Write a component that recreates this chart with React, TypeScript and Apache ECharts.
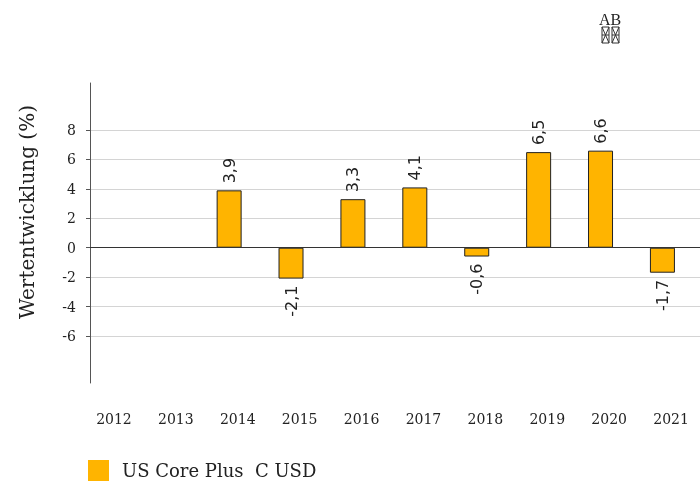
import React, { useEffect, useRef } from "react";
import * as echarts from "echarts";

const years = ["2012", "2013", "2014", "2015", "2016", "2017", "2018", "2019", "2020", "2021"];
const values: (number | null)[] = [null, null, 3.9, -2.1, 3.3, 4.1, -0.6, 6.5, 6.6, -1.7];
const yTicks = [-6, -4, -2, 0, 2, 4, 6, 8];
const seriesName = "US Core Plus  C USD";
const axisTitle = "Wertentwicklung (%)";

const BAR = "#FFB400";
const SERIF = "DejaVu Serif";
const SANS = "DejaVu Sans";

export default function App() {
  const ref = useRef<HTMLDivElement>(null);
  useEffect(() => {
    if (!ref.current) return;
    const chart = echarts.init(ref.current, null, { renderer: "svg" });
    const fmt = (v: number) => String(v).replace(".", ",");
    const boxGlyph = (x: number) => ({
      type: "group",
      x,
      y: 27,
      children: [
        { type: "rect", shape: { x: 0, y: 0, width: 7, height: 16 }, style: { fill: "none", stroke: "#333", lineWidth: 1 } },
        { type: "line", shape: { x1: 0, y1: 0, x2: 7, y2: 16 }, style: { stroke: "#333", lineWidth: 1 } },
        { type: "line", shape: { x1: 7, y1: 0, x2: 0, y2: 16 }, style: { stroke: "#333", lineWidth: 1 } },
        { type: "line", shape: { x1: 0, y1: 8, x2: 7, y2: 8 }, style: { stroke: "#333", lineWidth: 1 } },
      ],
    });
    chart.setOption({
      animation: false,
      grid: { left: 90, top: 83, width: 619, height: 300, containLabel: false, outerBoundsMode: "none" },
      legend: {
        left: 88,
        top: 460,
        padding: 0,
        itemWidth: 21,
        itemHeight: 21,
        icon: "rect",
        itemStyle: { borderWidth: 0 },
        textStyle: { fontFamily: SERIF, fontSize: 18, lineHeight: 20, color: "#222", padding: [0, 0, 0, 8] },
        data: [seriesName],
      },
      xAxis: {
        type: "category",
        data: years,
        axisLine: { show: false },
        axisTick: { show: false },
        axisLabel: { margin: 29, fontFamily: SERIF, fontSize: 14, color: "#222", padding: [0, 14, 0, 0] },
        splitLine: { show: false },
      },
      yAxis: {
        type: "value",
        min: -9.2,
        max: 11.2,
        axisLine: { show: true, lineStyle: { color: "#555", width: 1 } },
        axisTick: { show: true, length: 4, customValues: yTicks, lineStyle: { color: "#555" } },
        axisLabel: { customValues: yTicks, margin: 14, fontFamily: SERIF, fontSize: 14, color: "#222" },
        splitLine: { show: true, lineStyle: { color: "#d4d4d4", width: 1 } },
      },
      graphic: [
        {
          type: "text",
          x: 27,
          y: 212,
          rotation: Math.PI / 2,
          style: { text: axisTitle, fontFamily: SERIF, fontSize: 20, fill: "#222", align: "center", verticalAlign: "middle" },
        },
        {
          type: "text",
          x: 610,
          y: 19,
          style: { text: "AB", fontFamily: "Liberation Serif", fontSize: 16, fill: "#222", align: "center", verticalAlign: "middle" },
        },
        boxGlyph(602),
        boxGlyph(612),
      ],
      series: [
        {
          type: "bar",
          name: seriesName,
          barWidth: 25,
          barGap: "25%",
          itemStyle: { color: BAR, borderColor: "#222", borderWidth: 1 },
          label: {
            show: true,
            rotate: 90,
            distance: 7,
            fontFamily: SANS,
            fontSize: 16,
            color: "#222",
            verticalAlign: "middle",
            formatter: (p: any) => fmt(p.value),
          },
          data: values.map((v) =>
            v == null
              ? null
              : {
                  value: v,
                  label: { position: v < 0 ? "bottom" : "top", align: v < 0 ? "right" : "left" },
                }
          ),
          markLine: {
            silent: true,
            symbol: "none",
            label: { show: false },
            lineStyle: { color: "#333", type: "solid", width: 1 },
            data: [{ yAxis: 0 }],
          },
        },
        {
          type: "bar",
          name: "_spacer",
          barWidth: 25,
          barGap: "25%",
          data: [],
        },
      ],
    });
    return () => chart.dispose();
  }, []);
  return <div ref={ref} style={{ position: "fixed", left: 0, top: 0, width: 700, height: 481 }} />;
}
